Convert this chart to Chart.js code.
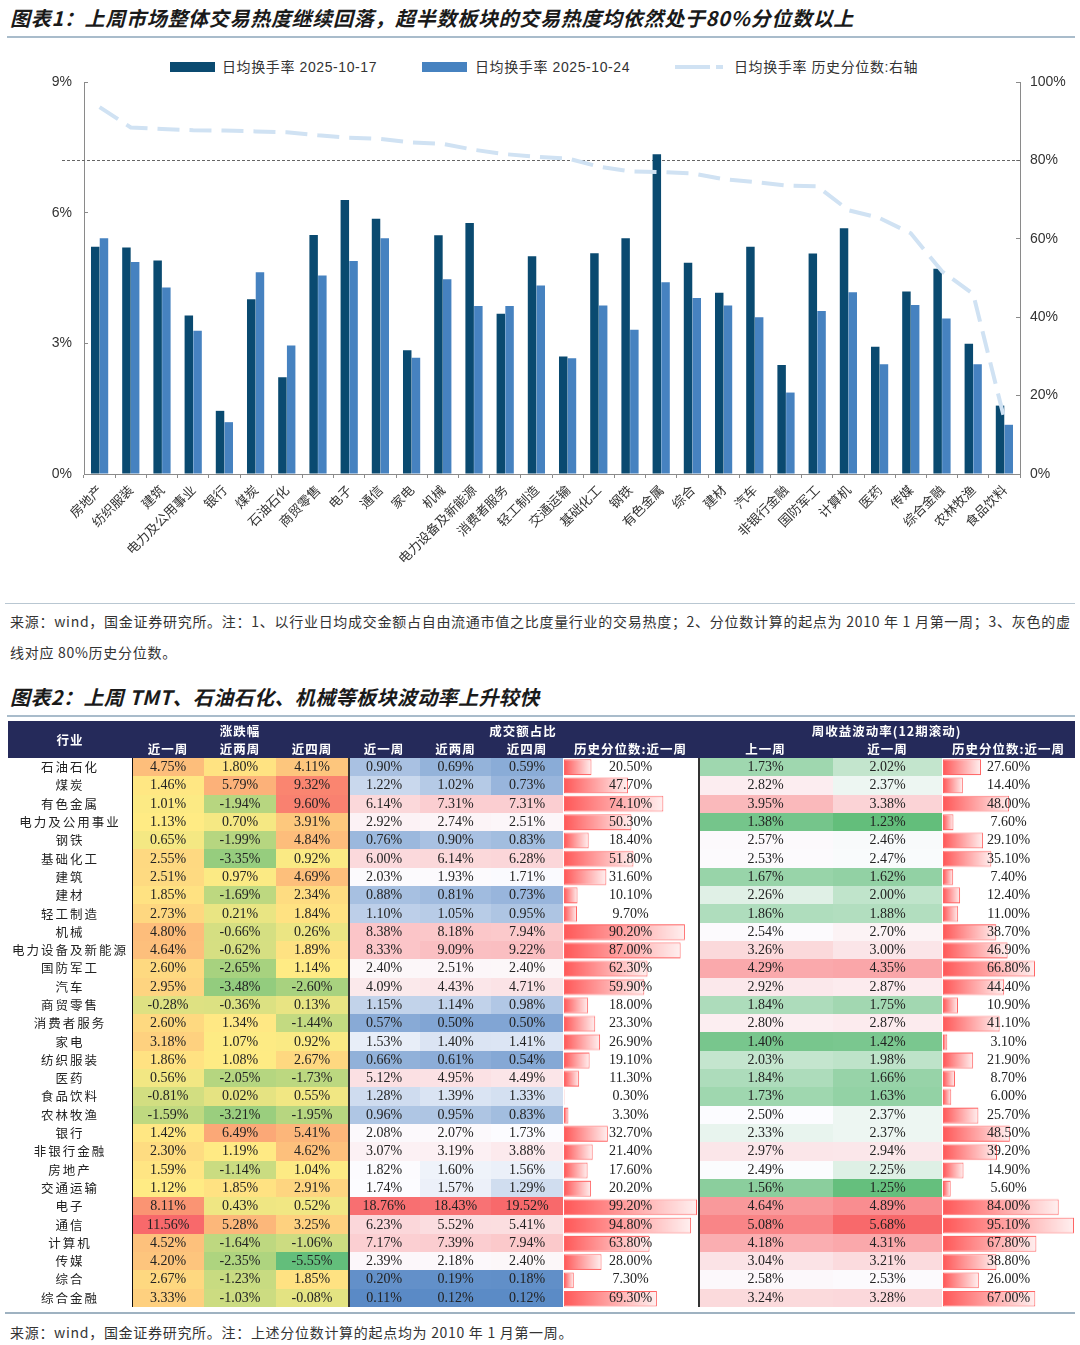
<!DOCTYPE html>
<html lang="zh-CN">
<head>
<meta charset="utf-8">
<title>交易热度与波动率</title>
<script src="https://cdn.jsdelivr.net/npm/chart.js@4.4.1/dist/chart.umd.min.js"></script>
<style>
  html, body { margin: 0; padding: 0; background: #fff; }
  body { width: 1080px; height: 1345px; position: relative; overflow: hidden;
         font-family: "Noto Sans CJK SC", "Liberation Sans", sans-serif; color: #222; }
  .title { position: absolute; left: 10px; margin: 0; font-size: 20px; line-height: 26px; font-weight: 700;
           font-style: italic; letter-spacing: .7px; color: #1a1a1a; white-space: nowrap; }
  .rule { position: absolute; left: 7px; width: 1068px; height: 2px; background: #a9bccb; }
  .thin { position: absolute; left: 5px; width: 1070px; height: 1px; background: #b9c7d2; }
  .note { position: absolute; left: 10px; font-size: 14px; line-height: 18px; color: #333;
          white-space: nowrap; letter-spacing: .72px; }
  #chartBox { position: absolute; left: 0; top: 40px; width: 1080px; height: 560px; }
  .legend { position: absolute; top: 58px; height: 18px; font-family: "Liberation Sans", "Noto Sans CJK SC", sans-serif;
            font-size: 14px; line-height: 18px; color: #333; white-space: nowrap; letter-spacing: .6px; }
  .sw { position: absolute; left: 0; top: 4px; width: 45px; height: 10px; }
  .dash { position: absolute; left: 0; top: 7px; width: 48px; height: 4px;
          background: linear-gradient(to right, #d0e2f3 0 35px, transparent 35px 41px, #d0e2f3 41px 48px); }
  #tbl { position: absolute; left: 8px; top: 721px; width: 1067px; border-collapse: collapse;
         table-layout: fixed; z-index: 1; }
  #tbl th { background: #252a5a; color: #fff; font-weight: 700; font-size: 12.5px; letter-spacing: 1px;
            padding: 0; white-space: nowrap; text-align: center; }
  #tbl thead tr.r1 th { height: 19px; line-height: 19px; }
  #tbl thead tr.r2 th { height: 18px; line-height: 18px; }
  #tbl td { padding: 0; height: 18.3px; line-height: 18px; text-align: center; font-family: "Liberation Serif", serif;
            font-size: 14px; color: #222; white-space: nowrap; }
  #tbl td.name { font-family: "Noto Sans CJK SC", sans-serif; font-size: 12.5px; letter-spacing: 2px; }
  #tbl td.sepA { box-shadow: inset 1px 0 0 #111; }
  #tbl td.sepB { box-shadow: inset 2px 0 0 #333; }
  .barBox { position: absolute; z-index: 0; }
</style>
</head>
<body>

<div class="title" style="top:5px">图表1：上周市场整体交易热度继续回落，超半数板块的交易热度均依然处于80%分位数以上</div>
<div class="rule" style="top:36px"></div>

<div class="legend" style="left:170px"><span class="sw" style="background:#0a4a70"></span><span style="margin-left:52px">日均换手率 2025-10-17</span></div>
<div class="legend" style="left:422px"><span class="sw" style="background:#4682c0"></span><span style="margin-left:53px">日均换手率 2025-10-24</span></div>
<div class="legend" style="left:675px"><span class="dash"></span><span style="margin-left:59px">日均换手率 历史分位数:右轴</span></div>

<div id="chartBox"><canvas id="heatChart"></canvas></div>

<div class="thin" style="top:603px"></div>
<div class="note" style="top:612px">来源：wind，国金证券研究所。注：1、以行业日均成交金额占自由流通市值之比度量行业的交易热度；2、分位数计算的起点为 2010 年 1 月第一周；3、灰色的虚</div>
<div class="note" style="top:643px">线对应 80%历史分位数。</div>

<div class="title" style="top:684px;letter-spacing:.4px">图表2：上周 TMT、石油石化、机械等板块波动率上升较快</div>
<div class="rule" style="top:715px"></div>

<table id="tbl">
  <colgroup>
    <col style="width:124px"><col style="width:72px"><col style="width:72px"><col style="width:72px">
    <col style="width:72px"><col style="width:71px"><col style="width:72px"><col style="width:135px">
    <col style="width:135px"><col style="width:109px"><col style="width:133px">
  </colgroup>
  <thead>
    <tr class="r1"><th rowspan="2">行业</th><th colspan="3">涨跌幅</th><th colspan="4">成交额占比</th><th colspan="3">周收益波动率(12期滚动)</th></tr>
    <tr class="r2"><th>近一周</th><th>近两周</th><th>近四周</th><th>近一周</th><th>近两周</th><th>近四周</th><th>历史分位数:近一周</th><th>上一周</th><th>近一周</th><th>历史分位数:近一周</th></tr>
  </thead>
  <tbody></tbody>
</table>
<div class="barBox" id="amtBarBox"><canvas id="amtBars"></canvas></div>
<div class="barBox" id="volBarBox"><canvas id="volBars"></canvas></div>

<div class="thin" style="top:1312px;height:2px;background:#9fb2c1"></div>
<div class="note" style="top:1323px;letter-spacing:.7px">来源：wind，国金证券研究所。注：上述分位数计算的起点均为 2010 年 1 月第一周。</div>

<script>
/* ---------- chart 1 data ---------- */
const industries = ['房地产', '纺织服装', '建筑', '电力及公用事业', '银行', '煤炭', '石油石化', '商贸零售', '电子', '通信',
  '家电', '机械', '电力设备及新能源', '消费者服务', '轻工制造', '交通运输', '基础化工', '钢铁', '有色金属', '综合',
  '建材', '汽车', '非银行金融', '国防军工', '计算机', '医药', '传媒', '综合金融', '农林牧渔', '食品饮料'];
const turn1017 = [5.22, 5.20, 4.90, 3.64, 1.45, 4.01, 2.22, 5.49, 6.29, 5.86, 2.84, 5.48, 5.76, 3.68, 5.00,
  2.70, 5.07, 5.41, 7.34, 4.85, 4.16, 5.22, 2.50, 5.06, 5.64, 2.92, 4.19, 4.71, 2.99, 1.57];
const turn1024 = [5.41, 4.87, 4.28, 3.29, 1.19, 4.63, 2.95, 4.56, 4.89, 5.41, 2.67, 4.47, 3.86, 3.86, 4.33,
  2.66, 3.87, 3.31, 4.40, 4.04, 3.87, 3.60, 1.87, 3.74, 4.17, 2.52, 3.88, 3.57, 2.52, 1.13];
const turnPct = [93.6, 88.4, 88.0, 87.7, 87.6, 87.4, 87.2, 86.4, 85.8, 85.5, 84.6, 84.2, 82.7, 81.6, 80.9,
  80.5, 78.4, 77.2, 77.0, 76.7, 75.2, 74.5, 73.6, 73.4, 67.3, 65.3, 61.4, 51.7, 45.9, 14.0];
const refPct = 80;
const leftMax = 9, leftStep = 3;
const rightMax = 100, rightStep = 20;

/* ---------- table data ---------- */
const rows = ['石油石化', '煤炭', '有色金属', '电力及公用事业', '钢铁', '基础化工', '建筑', '建材', '轻工制造', '机械',
  '电力设备及新能源', '国防军工', '汽车', '商贸零售', '消费者服务', '家电', '纺织服装', '医药', '食品饮料', '农林牧渔',
  '银行', '非银行金融', '房地产', '交通运输', '电子', '通信', '计算机', '传媒', '综合', '综合金融'];
const ret1w = [4.75, 1.46, 1.01, 1.13, 0.65, 2.55, 2.51, 1.85, 2.73, 4.80, 4.64, 2.60, 2.95, -0.28, 2.60,
  3.18, 1.86, 0.56, -0.81, -1.59, 1.42, 2.30, 1.59, 1.12, 8.11, 11.56, 4.52, 4.20, 2.67, 3.33];
const ret2w = [1.80, 5.79, -1.94, 0.70, -1.99, -3.35, 0.97, -1.69, 0.21, -0.66, -0.62, -2.65, -3.48, -0.36, 1.34,
  1.07, 1.08, -2.05, 0.02, -3.21, 6.49, 1.19, -1.14, 1.85, 0.43, 5.28, -1.64, -2.35, -1.23, -1.03];
const ret4w = [4.11, 9.32, 9.60, 3.91, 4.84, 0.92, 4.69, 2.34, 1.84, 0.26, 1.89, 1.14, -2.60, 0.13, -1.44,
  0.92, 2.67, -1.73, 0.55, -1.95, 5.41, 4.62, 1.04, 2.91, 0.52, 3.25, -1.06, -5.55, 1.85, -0.08];
const amt1w = [0.90, 1.22, 6.14, 2.92, 0.76, 6.00, 2.03, 0.88, 1.10, 8.38, 8.33, 2.40, 4.09, 1.15, 0.57,
  1.53, 0.66, 5.12, 1.28, 0.96, 2.08, 3.07, 1.82, 1.74, 18.76, 6.23, 7.17, 2.39, 0.20, 0.11];
const amt2w = [0.69, 1.02, 7.31, 2.74, 0.90, 6.14, 1.93, 0.81, 1.05, 8.18, 9.09, 2.51, 4.43, 1.14, 0.50,
  1.40, 0.61, 4.95, 1.39, 0.95, 2.07, 3.19, 1.60, 1.57, 18.43, 5.52, 7.39, 2.18, 0.19, 0.12];
const amt4w = [0.59, 0.73, 7.31, 2.51, 0.83, 6.28, 1.71, 0.73, 0.95, 7.94, 9.22, 2.40, 4.71, 0.98, 0.50,
  1.41, 0.54, 4.49, 1.33, 0.83, 1.73, 3.88, 1.56, 1.29, 19.52, 5.41, 7.94, 2.40, 0.18, 0.12];
const amtPct = [20.50, 47.70, 74.10, 50.30, 18.40, 51.80, 31.60, 10.10, 9.70, 90.20, 87.00, 62.30, 59.90, 18.00, 23.30,
  26.90, 19.10, 11.30, 0.30, 3.30, 32.70, 21.40, 17.60, 20.20, 99.20, 94.80, 63.80, 28.00, 7.30, 69.30];
const volPrev = [1.73, 2.82, 3.95, 1.38, 2.57, 2.53, 1.67, 2.26, 1.86, 2.54, 3.26, 4.29, 2.92, 1.84, 2.80,
  1.40, 2.03, 1.84, 1.73, 2.50, 2.33, 2.97, 2.49, 1.56, 4.64, 5.08, 4.18, 3.04, 2.58, 3.24];
const volCur = [2.02, 2.37, 3.38, 1.23, 2.46, 2.47, 1.62, 2.00, 1.88, 2.70, 3.00, 4.35, 2.87, 1.75, 2.87,
  1.42, 1.98, 1.66, 1.63, 2.37, 2.37, 2.94, 2.25, 1.25, 4.89, 5.68, 4.31, 3.21, 2.53, 3.28];
const volPct = [27.60, 14.40, 48.00, 7.60, 29.10, 35.10, 7.40, 12.40, 11.00, 38.70, 46.90, 66.80, 44.40, 10.90, 41.10,
  3.10, 21.90, 8.70, 6.00, 25.70, 48.50, 39.20, 14.90, 5.60, 84.00, 95.10, 67.80, 38.80, 26.00, 67.00];

Chart.defaults.font.family = '"Liberation Sans", "Noto Sans CJK SC", sans-serif';
Chart.defaults.animation = false;

/* ---------- chart 1 ---------- */
const refLine = {
  id: 'refLine',
  beforeDatasetsDraw(chart) {
    const { ctx, chartArea, scales } = chart;
    const y = Math.round(scales.y1.getPixelForValue(refPct)) + 0.5;
    ctx.save();
    ctx.strokeStyle = '#666';
    ctx.lineWidth = 1;
    ctx.setLineDash([3, 2]);
    ctx.beginPath();
    ctx.moveTo(chartArea.left - 22, y);
    ctx.lineTo(chartArea.right, y);
    ctx.stroke();
    ctx.restore();
  }
};

const axisGray = '#8a8a8a';
new Chart(document.getElementById('heatChart'), {
  data: {
    labels: industries,
    datasets: [
      { type: 'line', label: '日均换手率 历史分位数:右轴', data: turnPct, yAxisID: 'y1', order: 0,
        borderColor: '#d0e2f3', borderWidth: 4, borderDash: [22, 10], pointRadius: 0, tension: 0 },
      { type: 'bar', label: '日均换手率 2025-10-17', data: turn1017, yAxisID: 'y', order: 1,
        backgroundColor: '#0a4a70', categoryPercentage: 0.56, barPercentage: 0.97 },
      { type: 'bar', label: '日均换手率 2025-10-24', data: turn1024, yAxisID: 'y', order: 1,
        backgroundColor: '#4682c0', categoryPercentage: 0.56, barPercentage: 0.97 }
    ]
  },
  options: {
    responsive: true,
    maintainAspectRatio: false,
    layout: { padding: { top: 42, bottom: 0, left: 0, right: 0 } },
    plugins: { legend: { display: false }, tooltip: { enabled: false } },
    scales: {
      x: {
        offset: true,
        grid: { offset: true, drawOnChartArea: false, tickLength: 4, color: axisGray },
        border: { color: axisGray },
        ticks: { autoSkip: false, maxRotation: 45, minRotation: 45, padding: 4, color: '#333',
                  font: { family: '"Noto Sans CJK SC", sans-serif', size: 13 } },
        afterFit(s) { s.height = 126; }
      },
      y: {
        position: 'left', min: 0, max: leftMax,
        grid: { drawOnChartArea: false, tickLength: -4, color: axisGray },
        border: { color: axisGray },
        ticks: { stepSize: leftStep, padding: 16, color: '#333', font: { size: 14 }, callback: v => v + '%' },
        afterFit(s) { s.width = 84; }
      },
      y1: {
        position: 'right', min: 0, max: rightMax,
        grid: { drawOnChartArea: false, tickLength: -4, color: axisGray },
        border: { color: axisGray },
        ticks: { stepSize: rightStep, padding: 14, color: '#333', font: { size: 14 }, callback: v => v + '%' },
        afterFit(s) { s.width = 60; }
      }
    }
  },
  plugins: [refLine]
});

/* ---------- table heat colours ---------- */
const hex = h => [1, 3, 5].map(i => parseInt(h.slice(i, i + 2), 16));
function median(arr) {
  const s = [...arr].sort((a, b) => a - b);
  const p = (s.length - 1) * 0.5, lo = Math.floor(p);
  return s[lo] + (s[Math.ceil(p)] - s[lo]) * (p - lo);
}
function makeScale(values, cLo, cMid, cHi) {
  const lo = Math.min(...values), hi = Math.max(...values), mid = median(values);
  const a = hex(cLo), b = hex(cMid), c = hex(cHi);
  return v => {
    let from, to, t;
    if (v <= mid) { from = a; to = b; t = (v - lo) / (mid - lo || 1); }
    else { from = b; to = c; t = (v - mid) / (hi - mid || 1); }
    t = Math.max(0, Math.min(1, t));
    return 'rgb(' + from.map((x, i) => Math.round(x + (to[i] - x) * t)).join(',') + ')';
  };
}
const retColor = makeScale([...ret1w, ...ret2w, ...ret4w], '#63BE7B', '#FFEB84', '#F8696B');
const amtColor = makeScale([...amt1w, ...amt2w, ...amt4w], '#5A8AC6', '#FCFCFF', '#F8696B');
const volColor = makeScale([...volPrev, ...volCur], '#63BE7B', '#FCFCFF', '#F8696B');

const columns = [
  { vals: ret1w, color: retColor, cls: 'sepA' },
  { vals: ret2w, color: retColor },
  { vals: ret4w, color: retColor },
  { vals: amt1w, color: amtColor, cls: 'sepB' },
  { vals: amt2w, color: amtColor },
  { vals: amt4w, color: amtColor },
  { vals: amtPct, color: null },
  { vals: volPrev, color: volColor, cls: 'sepB' },
  { vals: volCur, color: volColor },
  { vals: volPct, color: null }
];

const tbody = document.querySelector('#tbl tbody');
rows.forEach((name, r) => {
  const tr = document.createElement('tr');
  const th = document.createElement('td');
  th.className = 'name';
  th.textContent = name;
  tr.appendChild(th);
  columns.forEach(col => {
    const td = document.createElement('td');
    const v = col.vals[r];
    td.textContent = v.toFixed(2) + '%';
    if (col.cls) td.className = col.cls;
    if (col.color) td.style.background = col.color(v);
    tr.appendChild(td);
  });
  tbody.appendChild(tr);
});

/* ---------- percentile data bars (Chart.js, under the table text) ---------- */
function dataBars(colIndex, values, boxId, canvasId) {
  const trs = tbody.querySelectorAll('tr');
  const first = trs[0].children[colIndex].getBoundingClientRect();
  const last = trs[trs.length - 1].children[colIndex].getBoundingClientRect();
  const box = document.getElementById(boxId);
  box.style.left = first.left + 'px';
  box.style.top = first.top + 'px';
  box.style.width = first.width + 'px';
  box.style.height = (last.bottom - first.top) + 'px';

  return new Chart(document.getElementById(canvasId), {
    type: 'bar',
    data: {
      labels: rows,
      datasets: [{
        data: values,
        borderColor: '#ff6464',
        borderWidth: 1,
        borderSkipped: false,
        categoryPercentage: 1,
        barPercentage: 0.86,
        backgroundColor(c) {
          const chart = c.chart;
          if (!chart.chartArea || c.raw == null) return '#ff8080';
          const xs = chart.scales.x;
          const x0 = xs.getPixelForValue(0);
          const x1 = Math.max(xs.getPixelForValue(c.raw), x0 + 1);
          const g = chart.ctx.createLinearGradient(x0, 0, x1, 0);
          g.addColorStop(0, '#ff5858');
          g.addColorStop(1, '#fff0f0');
          return g;
        }
      }]
    },
    options: {
      indexAxis: 'y',
      responsive: true,
      maintainAspectRatio: false,
      layout: { padding: { left: 1, right: 1, top: 0, bottom: 0 } },
      plugins: { legend: { display: false }, tooltip: { enabled: false } },
      scales: {
        x: { display: false, min: 0, max: Math.max(...values) },
        y: { display: false }
      }
    }
  });
}
dataBars(7, amtPct, 'amtBarBox', 'amtBars');
dataBars(10, volPct, 'volBarBox', 'volBars');
</script>
</body>
</html>
